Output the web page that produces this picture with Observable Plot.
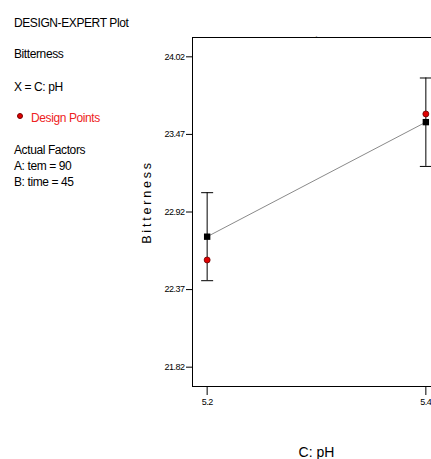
<!DOCTYPE html>
<html>
<head>
<meta charset="utf-8">
<script src="https://cdn.jsdelivr.net/npm/d3@7"></script>
<script src="https://cdn.jsdelivr.net/npm/@observablehq/plot@0.6"></script>
<style>
  html, body { margin: 0; padding: 0; background: #fff; overflow: hidden; }
  #wrap { position: relative; width: 431px; height: 459px; overflow: hidden; }
  #chart { position: absolute; left: 0; top: 0; width: 445px; }
  #chart svg { max-width: none !important; }
  .lt { position: absolute; font-family: "Liberation Sans", Arial, sans-serif; font-size: 12px; line-height: 12px; letter-spacing: -0.4px; color: #000; white-space: nowrap; }
  .red { color: #ee2222; }
  .ldot { position: absolute; width: 6px; height: 6px; border-radius: 50%; background: #e00000; border: 1px solid #700; box-sizing: border-box; }
  #chart svg g[aria-label="y-axis tick label"] text,
  #chart svg g[aria-label="x-axis tick label"] text { letter-spacing: -0.5px; }
  .ylab text { letter-spacing: 2.8px; }
</style>
</head>
<body>
<div id="wrap">
  <div id="chart"></div>
  <div class="lt" style="left:14px;top:17px;">DESIGN-EXPERT Plot</div>
  <div class="lt" style="left:14px;top:48px;">Bitterness</div>
  <div class="lt" style="left:14px;top:81px;">X = C: pH</div>
  <div class="ldot" style="left:17px;top:113px;"></div>
  <div class="lt red" style="left:31px;top:112px;">Design Points</div>
  <div class="lt" style="left:14px;top:144px;">Actual Factors</div>
  <div class="lt" style="left:14px;top:160px;">A: tem = 90</div>
  <div class="lt" style="left:14px;top:176px;">B: time = 45</div>
</div>
<script>
// Data
const phLevels = [5.2, 5.4];
const predicted = [22.745, 23.557];
const lowerCI = [22.433, 23.243];
const upperCI = [23.057, 23.870];
const designPoints = [22.58, 23.615];
const yTicks = [21.82, 22.37, 22.92, 23.47, 24.02];
const xTicks = [5.2, 5.4];
const yLabel = "Bitterness";
const xLabel = "C: pH";
const titleText = ".";

const rows = phLevels.map((ph, i) => ({
  ph, pred: predicted[i], lo: lowerCI[i], hi: upperCI[i], obs: designPoints[i]
}));

const capSymbol = {
  draw(ctx, size) {
    const r = Math.sqrt(size / Math.PI);
    ctx.moveTo(-r, 0);
    ctx.lineTo(r, 0);
  }
};

const chart = Plot.plot({
  width: 445,
  height: 459,
  marginLeft: 192,
  marginRight: 5,
  marginTop: 37,
  marginBottom: 73,
  style: { fontFamily: "'Liberation Sans', Arial, sans-serif", fontSize: "9px", color: "#000", background: "#fff", maxWidth: "none" },
  x: { domain: [5.1866, 5.4134] },
  y: { domain: [21.683, 24.157] },
  marks: [
    Plot.frame({ stroke: "#000" }),
    Plot.axisY({ ticks: yTicks, tickFormat: d3.format(".2f"), tickSize: 6, tickPadding: 2, label: null }),
    Plot.axisX({ ticks: xTicks, tickFormat: d3.format(".1f"), tickSize: 9, tickPadding: 3, label: null }),
    Plot.text([xLabel], { frameAnchor: "bottom", dy: 66, fontSize: 14, lineAnchor: "middle" }),
    Plot.text([yLabel], { frameAnchor: "left", textAnchor: "middle", dx: -46, dy: -10, rotate: -90, fontSize: 12.5, lineAnchor: "middle", className: "ylab" }),
    Plot.text([titleText], { frameAnchor: "top", dy: -8, fontSize: 12 }),
    Plot.line(rows, { x: "ph", y: "pred", stroke: "#8a8a8a", strokeWidth: 1 }),
    Plot.ruleX(rows, { x: "ph", y1: "lo", y2: "hi", stroke: "#000", strokeWidth: 1 }),
    Plot.dot(rows, { x: "ph", y: "hi", symbol: capSymbol, r: 6, stroke: "#000", strokeWidth: 1 }),
    Plot.dot(rows, { x: "ph", y: "lo", symbol: capSymbol, r: 6, stroke: "#000", strokeWidth: 1 }),
    Plot.dot(rows, { x: "ph", y: "obs", r: 3, fill: "#e00000", stroke: "#6a0000", strokeWidth: 0.8 }),
    Plot.dot(rows, { x: "ph", y: "pred", symbol: "square", r: 3.6, fill: "#000", stroke: "none" })
  ]
});
document.getElementById("chart").appendChild(chart);
</script>
</body>
</html>
